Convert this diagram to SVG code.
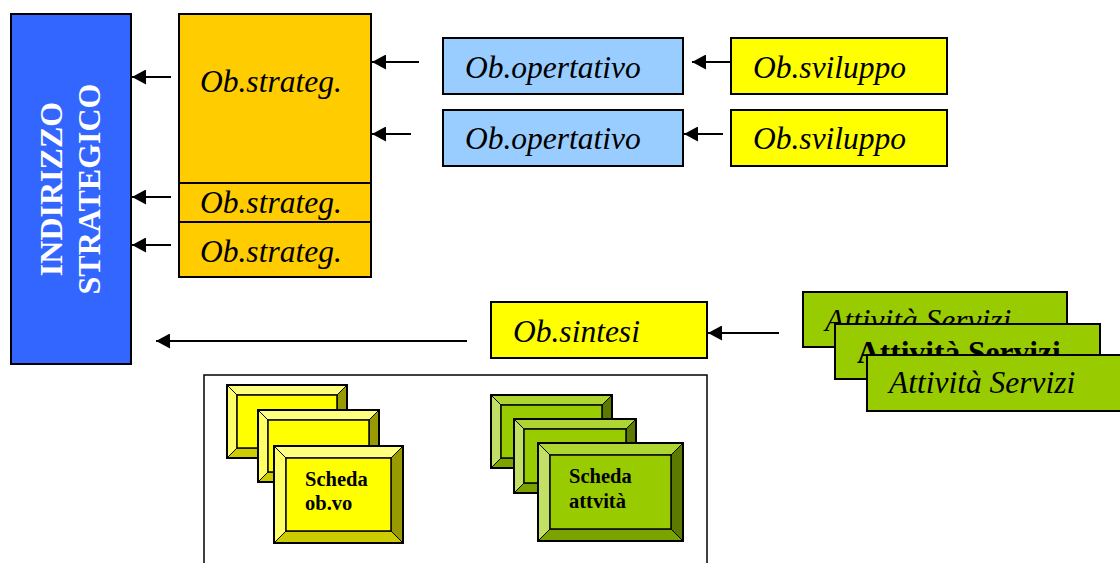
<svg xmlns="http://www.w3.org/2000/svg" width="1120" height="563" viewBox="0 0 1120 563">
<style>
.box{stroke:#000;stroke-width:2}
.t{font-family:"Liberation Serif","Times New Roman",serif;font-style:italic;font-size:31.5px;fill:#000}
.tb{font-family:"Liberation Serif","Times New Roman",serif;font-weight:bold;font-size:31.5px;fill:#000}
.card{font-family:"Liberation Serif","Times New Roman",serif;font-weight:bold;font-size:20.5px;fill:#000}
.conn{stroke:#000;stroke-width:2;fill:none;marker-end:url(#ah)}
.bv{stroke:#000;stroke-width:1}
.yf{fill:#FFFF00}.yt{fill:#FFFF80}.yl{fill:#FFFF66}.yr{fill:#999900}.yb{fill:#CCCC00}
.gf{fill:#99CC00}.gt{fill:#ADD633}.gl{fill:#C2E066}.gr{fill:#5C7A00}.gb{fill:#7AA300}
.edge{fill:none;stroke:#000;stroke-width:2}
.inner{stroke:#000;stroke-width:1.5}
</style>
<defs>
<marker id="ah" markerUnits="userSpaceOnUse" markerWidth="14" markerHeight="15" refX="14" refY="7.5" orient="auto">
<path d="M0,0 L14,7.5 L0,15 z" fill="#000"/>
</marker>
</defs>
<rect width="1120" height="563" fill="#fff"/>

<g id="indirizzo">
<rect class="box" x="11" y="14" width="120" height="350" fill="#3366FF"/>
<text class="tb" font-size="32" fill="#fff" text-anchor="middle" transform="translate(62,189) rotate(-90)" style="fill:#fff;font-size:32px">INDIRIZZO</text>
<text class="tb" text-anchor="middle" transform="translate(100,189) rotate(-90)" style="fill:#fff;font-size:32px">STRATEGICO</text>
</g>

<g id="strateg">
<rect class="box" x="179" y="14" width="192" height="263" fill="#FFCC00"/>
<line x1="179" y1="183" x2="371" y2="183" stroke="#000" stroke-width="2"/>
<line x1="179" y1="222" x2="371" y2="222" stroke="#000" stroke-width="2"/>
<text class="t" x="200" y="92">Ob.strateg.</text>
<text class="t" x="200" y="213">Ob.strateg.</text>
<text class="t" x="200" y="262">Ob.strateg.</text>
</g>

<g id="operativo1">
<rect class="box" x="443" y="38" width="240" height="56" fill="#99CCFF"/>
<text class="t" x="465" y="78">Ob.opertativo</text>
</g>
<g id="operativo2">
<rect class="box" x="443" y="110" width="240" height="56" fill="#99CCFF"/>
<text class="t" x="465" y="149">Ob.opertativo</text>
</g>
<g id="sviluppo1">
<rect class="box" x="731" y="38" width="216" height="56" fill="#FFFF00"/>
<text class="t" x="753" y="78">Ob.sviluppo</text>
</g>
<g id="sviluppo2">
<rect class="box" x="731" y="110" width="216" height="56" fill="#FFFF00"/>
<text class="t" x="753" y="149">Ob.sviluppo</text>
</g>
<g id="sintesi">
<rect class="box" x="491" y="302" width="216" height="56" fill="#FFFF00"/>
<text class="t" x="513" y="342">Ob.sintesi</text>
</g>

<g id="attivita">
<rect class="box" x="803" y="292" width="264" height="55" fill="#99CC00"/>
<text class="t" x="825" y="331">Attività Servizi</text>
<rect class="box" x="835" y="324" width="265" height="55" fill="#99CC00"/>
<text class="tb" x="857" y="363">Attività Servizi</text>
<rect class="box" x="867" y="355" width="260" height="56" fill="#99CC00"/>
<text class="t" x="889" y="393">Attività Servizi</text>
</g>

<g id="schede">
<rect x="204" y="375" width="503" height="200" fill="none" stroke="#000" stroke-width="1.5"/>
<g id="scheda-obvo">
<g class="bv">
<polygon class="yt" points="227,385 347,385 337,395 237,395"/>
<polygon class="yl" points="227,385 237,395 237,448 227,458"/>
<polygon class="yr" points="347,385 347,458 337,448 337,395"/>
<polygon class="yb" points="227,458 347,458 337,448 237,448"/>
<rect class="yf inner" x="237" y="395" width="100" height="53"/>
<rect class="edge" x="227" y="385" width="120" height="73"/>
</g>
<g class="bv">
<polygon class="yt" points="258,410 379,410 369,420 268,420"/>
<polygon class="yl" points="258,410 268,420 268,472 258,482"/>
<polygon class="yr" points="379,410 379,482 369,472 369,420"/>
<polygon class="yb" points="258,482 379,482 369,472 268,472"/>
<rect class="yf inner" x="268" y="420" width="101" height="52"/>
<rect class="edge" x="258" y="410" width="121" height="72"/>
</g>
<g class="bv">
<polygon class="yt" points="274,446 403,446 391,458 286,458"/>
<polygon class="yl" points="274,446 286,458 286,531 274,543"/>
<polygon class="yr" points="403,446 403,543 391,531 391,458"/>
<polygon class="yb" points="274,543 403,543 391,531 286,531"/>
<rect class="yf inner" x="286" y="458" width="105" height="73"/>
<rect class="edge" x="274" y="446" width="129" height="97"/>
</g>
<text class="card" x="305" y="486">Scheda</text>
<text class="card" x="305" y="510">ob.vo</text>
</g>
<g id="scheda-attivita">
<g class="bv">
<polygon class="gt" points="491,395 612,395 602,405 501,405"/>
<polygon class="gl" points="491,395 501,405 501,458 491,468"/>
<polygon class="gr" points="612,395 612,468 602,458 602,405"/>
<polygon class="gb" points="491,468 612,468 602,458 501,458"/>
<rect class="gf inner" x="501" y="405" width="101" height="53"/>
<rect class="edge" x="491" y="395" width="121" height="73"/>
</g>
<g class="bv">
<polygon class="gt" points="514,419 636,419 626,429 524,429"/>
<polygon class="gl" points="514,419 524,429 524,483 514,493"/>
<polygon class="gr" points="636,419 636,493 626,483 626,429"/>
<polygon class="gb" points="514,493 636,493 626,483 524,483"/>
<rect class="gf inner" x="524" y="429" width="102" height="54"/>
<rect class="edge" x="514" y="419" width="122" height="74"/>
</g>
<g class="bv">
<polygon class="gt" points="538,443 683,443 671,455 550,455"/>
<polygon class="gl" points="538,443 550,455 550,529 538,541"/>
<polygon class="gr" points="683,443 683,541 671,529 671,455"/>
<polygon class="gb" points="538,541 683,541 671,529 550,529"/>
<rect class="gf inner" x="550" y="455" width="121" height="74"/>
<rect class="edge" x="538" y="443" width="145" height="98"/>
</g>
<text class="card" x="569" y="483">Scheda</text>
<text class="card" x="569" y="508">attvità</text>
</g>
</g>

<g id="connectors">
<line class="conn" x1="171" y1="77" x2="132" y2="77"/>
<line class="conn" x1="171" y1="197" x2="132" y2="197"/>
<line class="conn" x1="171" y1="245" x2="132" y2="245"/>
<line class="conn" x1="419" y1="62" x2="372" y2="62"/>
<line class="conn" x1="411" y1="134" x2="372" y2="134"/>
<line class="conn" x1="731" y1="62" x2="692" y2="62"/>
<line class="conn" x1="723" y1="134" x2="684" y2="134"/>
<line class="conn" x1="779" y1="333" x2="708" y2="333"/>
<line class="conn" x1="467" y1="341" x2="156" y2="341"/>
</g>
</svg>
